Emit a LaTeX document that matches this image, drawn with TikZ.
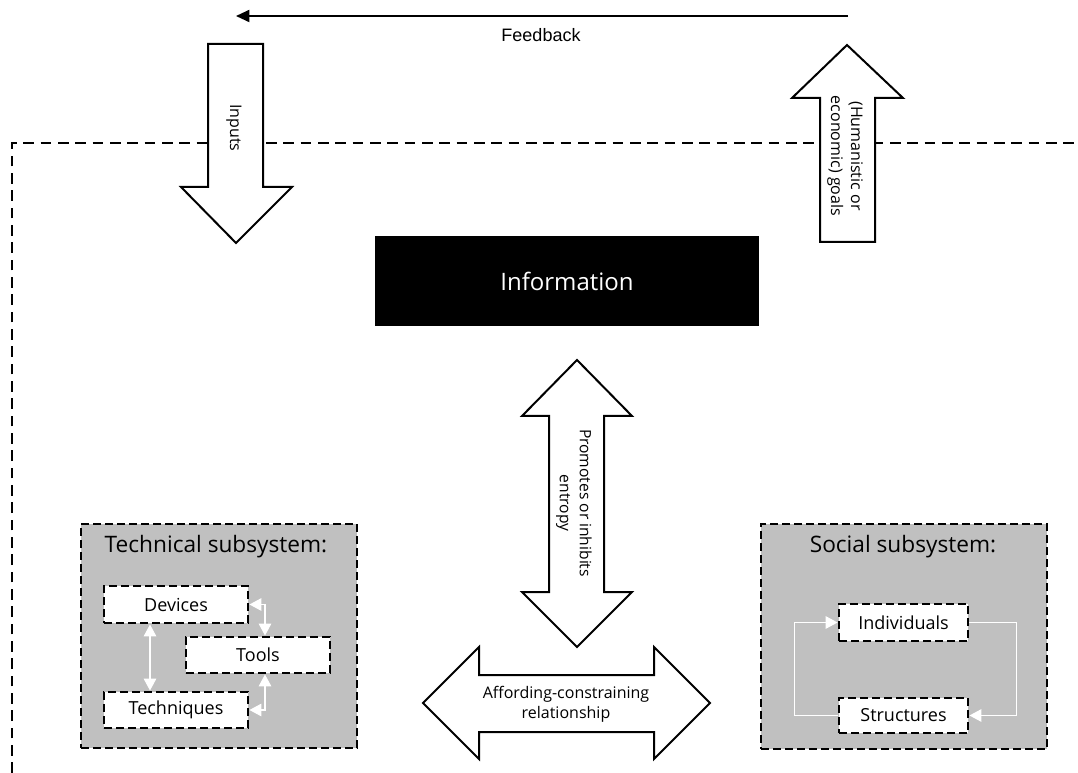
\documentclass[tikz,border=0pt]{standalone}
\usepackage{fontspec}
\setmainfont{Open Sans}
\newfontfamily\arialfont{Liberation Sans}
\usetikzlibrary{arrows.meta}
\definecolor{subgray}{RGB}{192,192,192}
\begin{document}
\begin{tikzpicture}[x=0.75pt,y=-0.75pt,
  blockarrow/.style={draw=black, fill=white, line width=1.5pt, line join=miter},
  frameline/.style={draw=black, line width=2.2pt, dash pattern=on 8pt off 5pt},
  subsys/.style={draw=black, fill=subgray, line width=2.2pt, dash pattern=on 6pt off 3pt, inner sep=0pt},
  itembox/.style={draw=black, fill=white, line width=2.2pt, dash pattern=on 6pt off 3pt, inner sep=0pt,
    minimum width=108pt, font=\fontsize{13.5pt}{16pt}\selectfont},
  titletext/.style={font=\fontsize{17pt}{20pt}\selectfont, inner sep=0pt},
  arrowtext/.style={font=\fontsize{12pt}{15pt}\selectfont, align=center, inner sep=0pt},
  whitelink/.style={draw=white, line width=0.8pt, {Triangle[length=9pt,width=9.5pt,fill=white]}-{Triangle[length=9pt,width=9.5pt,fill=white]}},
  whiteflow/.style={draw=white, line width=0.8pt, -{Triangle[length=9pt,width=9.5pt,fill=white]}},
  feedbackline/.style={draw=black, line width=1.4pt, -{Triangle[length=10pt,width=9pt]}}
]
\useasboundingbox (0,0) rectangle (1078,773);

% system boundary
\draw[frameline] (12,773) -- (12,143) -- (1078,143);

% feedback
\coordinate (fbstart) at (848,16);
\coordinate (fbend) at (236,16);
\draw[feedbackline] (fbstart) -- (fbend);
\node[font=\arialfont\fontsize{13.5pt}{16pt}\selectfont, inner sep=0pt] (feedback) at (541,35) {Feedback};

% inputs arrow
\draw[blockarrow] (208,44) -- (263,44) -- (263,187) -- (292,187) -- (236,243) -- (181,187) -- (208,187) -- cycle;
\node[arrowtext, rotate=-90] (inputs) at (234,128) {Inputs};

% goals arrow
\draw[blockarrow] (847,45) -- (903,98) -- (875,98) -- (875,242) -- (820,242) -- (820,98) -- (792,98) -- cycle;
\node[arrowtext, rotate=-90] (goals) at (845,156) {(Humanistic or\\economic) goals};

% information
\node[fill=black, minimum width=288pt, minimum height=67.5pt, inner sep=0pt,
  text=white, font=\fontsize{18pt}{21pt}\selectfont] (info) at (567,281) {Information};

% vertical double arrow
\draw[blockarrow] (577,360) -- (632,416) -- (604,416) -- (604,592) -- (632,592) -- (577,647)
  -- (522,592) -- (549,592) -- (549,416) -- (522,416) -- cycle;
\node[arrowtext, rotate=-90, font=\fontsize{11.7pt}{15pt}\selectfont] (entropy) at (574,503) {Promotes or inhibits\\entropy};

% horizontal double arrow
\draw[blockarrow] (423,703) -- (479,647) -- (479,675) -- (654,675) -- (654,647) -- (710,703)
  -- (654,759) -- (654,732) -- (479,732) -- (479,759) -- cycle;
\node[arrowtext] (afford) at (566,704) {Affording-constraining\\relationship};

% technical subsystem
\node[subsys, minimum width=207pt, minimum height=168pt] (tech) at (219,636) {};
\node[titletext] (techtitle) at (216,547) {Technical subsystem:};
\node[itembox, minimum height=27.75pt] (devices) at (176,604.5) {Devices};
\node[itembox, minimum height=27pt] (tools) at (258,655) {Tools};
\node[itembox, minimum height=27pt] (techniques) at (176,710) {Techniques};
\draw[whitelink] ([xshift=-19.5pt]devices.south) -- ([xshift=-19.5pt]techniques.north);
\draw[whitelink] (devices.east) -| ([xshift=5.25pt]tools.north);
\draw[whitelink] (techniques.east) -| ([xshift=5.25pt]tools.south);

% social subsystem
\node[subsys, minimum width=214.5pt, minimum height=168.75pt] (social) at (904,636.5) {};
\node[titletext] (socialtitle) at (903,547) {Social subsystem:};
\node[itembox, minimum width=96.75pt, minimum height=27.75pt] (individuals) at (903.5,622.5) {Individuals};
\node[itembox, minimum width=96.75pt, minimum height=26.25pt] (structures) at (903.5,715.5) {Structures};
\draw[whiteflow] (individuals.east) -- ++(47,0) |- (structures.east);
\draw[whiteflow] (structures.west) -- ++(-43,0) |- (individuals.west);
\end{tikzpicture}
\end{document}
